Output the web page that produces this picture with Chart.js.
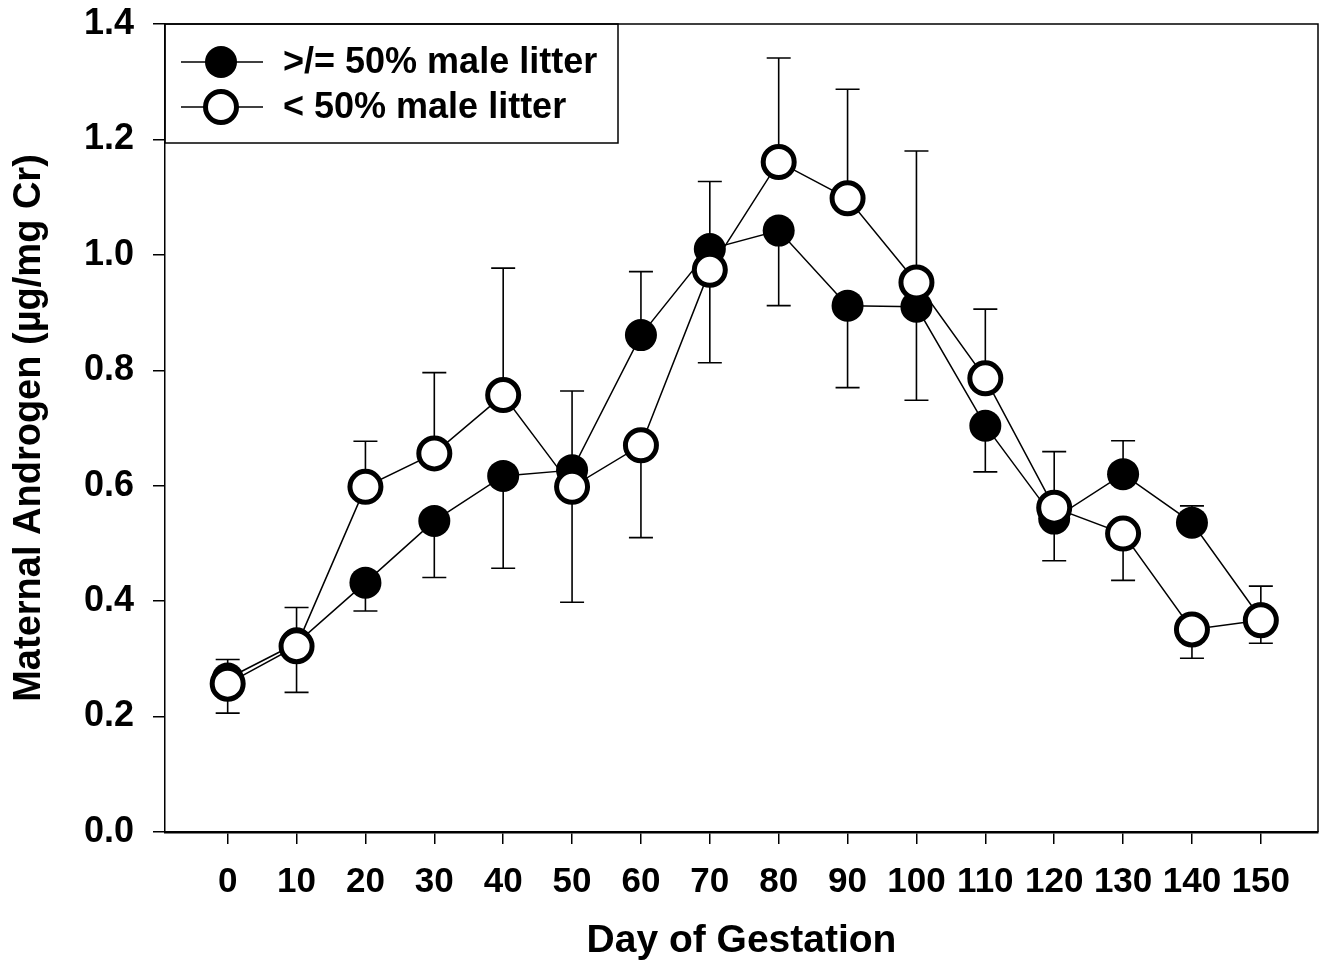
<!DOCTYPE html>
<html>
<head>
<meta charset="utf-8">
<title>Maternal Androgen</title>
<script src="https://cdn.jsdelivr.net/npm/chart.js"></script>
<style>
  body { margin: 0; padding: 0; background: #fff; }
  #chart { display: block; }
</style>
</head>
<body>
<canvas id="chart" width="1329" height="967"></canvas>
<script>
// data
var days = [0, 10, 20, 30, 40, 50, 60, 70, 80, 90, 100, 110, 120, 130, 140, 150];
var xTicks = [0, 10, 20, 30, 40, 50, 60, 70, 80, 90, 100, 110, 120, 130, 140, 150];
var yTicks = [0, 0.2, 0.4, 0.6, 0.8, 1.0, 1.2, 1.4];

var seriesNames = ['>/= 50% male litter', '< 50% male litter'];

// >= 50% male litter (filled circles)
var maleHigh = [0.266, 0.327, 0.432, 0.539, 0.617, 0.627, 0.861, 1.010, 1.042, 0.912, 0.910, 0.704, 0.543, 0.620, 0.536, 0.370];
var maleHighUp = [0.299, 0.389, null, null, null, 0.764, 0.971, 1.127, null, null, null, null, null, 0.678, 0.565, 0.426];
var maleHighDown = [null, null, 0.383, 0.441, 0.457, null, null, null, 0.912, 0.770, 0.748, 0.624, 0.470, null, null, null];

// < 50% male litter (open circles)
var maleLow = [0.257, 0.322, 0.598, 0.656, 0.757, 0.598, 0.670, 0.974, 1.161, 1.098, 0.952, 0.786, 0.562, 0.517, 0.351, 0.367];
var maleLowUp = [null, null, 0.677, 0.796, 0.977, null, null, null, 1.341, 1.287, 1.180, 0.906, 0.659, null, null, null];
var maleLowDown = [0.206, 0.242, null, null, null, 0.398, 0.510, 0.813, null, null, null, null, null, 0.436, 0.301, 0.327];

var FONT = '"Liberation Sans", Arial, sans-serif';

function toPoints(ys) {
  return days.map(function (d, i) { return { x: d, y: ys[i] }; });
}

// error bars, drawn under the markers
var errorBars = {
  id: 'errorBars',
  beforeDatasetsDraw: function (chart) {
    var ctx = chart.ctx, xs = chart.scales.x, ys = chart.scales.y;
    var sets = [[maleHigh, maleHighUp, maleHighDown], [maleLow, maleLowUp, maleLowDown]];
    ctx.save();
    ctx.strokeStyle = '#000';
    ctx.lineWidth = 1.6;
    sets.forEach(function (s) {
      days.forEach(function (d, i) {
        [s[1][i], s[2][i]].forEach(function (end) {
          if (end === null) return;
          var px = xs.getPixelForValue(d);
          var p0 = ys.getPixelForValue(s[0][i]);
          var p1 = ys.getPixelForValue(end);
          ctx.beginPath();
          ctx.moveTo(px, p0);
          ctx.lineTo(px, p1);
          ctx.moveTo(px - 12, p1);
          ctx.lineTo(px + 12, p1);
          ctx.stroke();
        });
      });
    });
    ctx.restore();
  }
};

// top/right frame and the legend box
var frameLegend = {
  id: 'frameLegend',
  afterDraw: function (chart) {
    var ctx = chart.ctx, a = chart.chartArea;
    ctx.save();
    ctx.strokeStyle = '#000';
    ctx.lineWidth = 1.5;
    ctx.beginPath();
    ctx.moveTo(a.left, a.top);
    ctx.lineTo(a.right, a.top);
    ctx.lineTo(a.right, a.bottom);
    ctx.stroke();

    // legend
    ctx.strokeRect(a.left, a.top, 453, 119);
    chart.data.datasets.forEach(function (ds, i) {
      var y = a.top + 38 + i * 45;
      var cx = a.left + 56;
      ctx.lineWidth = 1.5;
      ctx.beginPath();
      ctx.moveTo(a.left + 16, y);
      ctx.lineTo(a.left + 98, y);
      ctx.stroke();
      ctx.beginPath();
      ctx.arc(cx, y, ds.pointRadius, 0, Math.PI * 2);
      ctx.fillStyle = ds.pointBackgroundColor;
      ctx.fill();
      if (ds.pointBorderWidth > 0) {
        ctx.lineWidth = ds.pointBorderWidth;
        ctx.stroke();
      }
      ctx.fillStyle = '#000';
      ctx.font = 'bold 36px ' + FONT;
      ctx.textBaseline = 'middle';
      ctx.textAlign = 'left';
      ctx.fillText(ds.label, a.left + 118, y + 1);
    });
    ctx.restore();
  }
};

new Chart(document.getElementById('chart').getContext('2d'), {
  type: 'line',
  data: {
    datasets: [{
      label: seriesNames[0],
      data: toPoints(maleHigh),
      borderColor: '#000',
      borderWidth: 1.5,
      pointRadius: 16,
      pointBorderWidth: 0,
      pointBackgroundColor: '#000',
      pointBorderColor: '#000',
      tension: 0,
      order: 2
    }, {
      label: seriesNames[1],
      data: toPoints(maleLow),
      borderColor: '#000',
      borderWidth: 1.5,
      pointRadius: 15.5,
      pointBorderWidth: 5,
      pointBackgroundColor: '#fff',
      pointBorderColor: '#000',
      tension: 0,
      order: 1
    }]
  },
  options: {
    responsive: false,
    animation: false,
    layout: { autoPadding: false, padding: { top: 24, right: 11, left: 0, bottom: 0 } },
    plugins: {
      legend: { display: false },
      tooltip: { enabled: false }
    },
    scales: {
      x: {
        type: 'linear',
        min: -9.1,
        max: 158.3,
        afterBuildTicks: function (s) { s.ticks = xTicks.map(function (v) { return { value: v }; }); },
        afterFit: function (s) { s.height = 135; s.paddingLeft = 0; s.paddingRight = 0; },
        grid: { drawOnChartArea: false, drawTicks: true, tickLength: 12, color: '#000', lineWidth: 1.5 },
        border: { color: '#000', width: 2.5 },
        ticks: {
          color: '#000',
          padding: 17,
          maxRotation: 0,
          autoSkip: false,
          font: { family: FONT, size: 35, weight: 'bold' },
          callback: function (v) { return String(v); }
        },
        title: {
          display: true,
          text: 'Day of Gestation',
          color: '#000',
          padding: { top: 0, bottom: 2 },
          font: { family: FONT, size: 39, weight: 'bold' }
        }
      },
      y: {
        min: 0,
        max: 1.4,
        afterBuildTicks: function (s) { s.ticks = yTicks.map(function (v) { return { value: v }; }); },
        afterFit: function (s) { s.width = 165; s.paddingTop = 0; s.paddingBottom = 0; },
        grid: { drawOnChartArea: false, drawTicks: true, tickLength: 12, color: '#000', lineWidth: 1.5 },
        border: { color: '#000', width: 1.5 },
        ticks: {
          color: '#000',
          padding: 19,
          font: { family: FONT, size: 36, weight: 'bold' },
          callback: function (v) { return Number(v).toFixed(1); }
        },
        title: {
          display: true,
          text: 'Maternal Androgen (\u00b5g/mg Cr)',
          color: '#000',
          padding: { top: 7, bottom: 0 },
          font: { family: FONT, size: 38, weight: 'bold' }
        }
      }
    }
  },
  plugins: [errorBars, frameLegend]
});
</script>
</body>
</html>
